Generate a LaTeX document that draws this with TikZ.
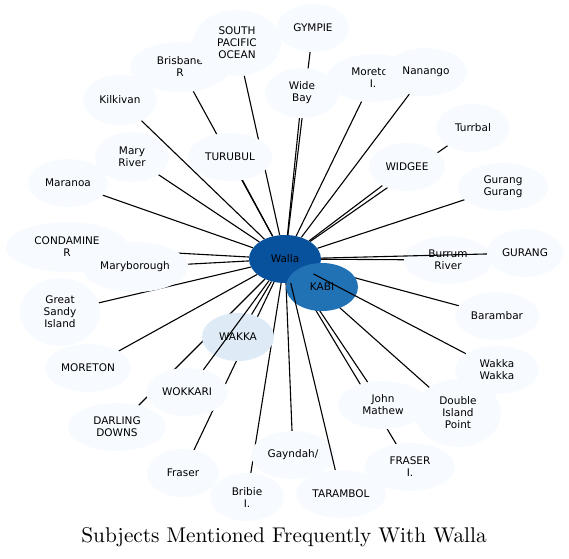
\documentclass[tikz,border=0pt]{standalone}
\usepackage{fontspec}
\usepackage{graphicx}
\newfontfamily\dvs{DejaVu Sans}
\usetikzlibrary{shapes.geometric}
\pgfdeclarelayer{background}
\pgfsetlayers{background,main}
\definecolor{cA}{HTML}{F7FBFF}
\definecolor{cB}{HTML}{DEEBF7}
\definecolor{cC}{HTML}{2171B5}
\definecolor{cD}{HTML}{08519C}
\begin{document}
\begin{tikzpicture}[x=1pt,y=-1pt,
  nd/.style={ellipse, fill=cA, draw=none, inner sep=0pt, align=center,
    font=\dvs\fontsize{10.5}{12}\selectfont},
  ed/.style={line width=1.1pt, black}]
\useasboundingbox (0,0) rectangle (569,558);
% nodes
\node[nd, fill=cD, minimum width=72, minimum height=48] (walla) at (285,259) {Walla};
\node[nd, fill=cC, minimum width=72, minimum height=48] (kabi) at (322,287) {KABI};
\node[nd, fill=cB, minimum width=72, minimum height=48] (wakka) at (238,337) {WAKKA};
\node[nd, minimum width=100, minimum height=50] (brisbane) at (180,67) {Brisbane\\R};
\node[nd, minimum width=72, minimum height=48] (gympie) at (313,28) {GYMPIE};
\node[nd, minimum width=88, minimum height=66] (spo) at (237,43) {SOUTH\\PACIFIC\\OCEAN};
\node[nd, minimum width=74, minimum height=50] (kilkivan) at (120,100) {Kilkivan};
\node[nd, minimum width=92, minimum height=48] (moretoni) at (373,78) {Moreton\\I.};
\node[nd, minimum width=74, minimum height=50] (widebay) at (302,93) {Wide\\Bay};
\node[nd, minimum width=82, minimum height=48] (nanango) at (426,72) {Nanango};
\node[nd, minimum width=84, minimum height=48] (turubul) at (230,157) {TURUBUL};
\node[nd, minimum width=74, minimum height=50] (maryriver) at (132,157) {Mary\\River};
\node[nd, minimum width=74, minimum height=48] (turrbal) at (473,128) {Turrbal};
\node[nd, minimum width=76, minimum height=48] (widgee) at (407,167) {WIDGEE};
\node[nd, minimum width=80, minimum height=48] (maranoa) at (68,183) {Maranoa};
\node[nd, minimum width=90, minimum height=48] (gurangg) at (503,187) {Gurang\\Gurang};
\node[nd, minimum width=122, minimum height=50] (condamine) at (67,247) {CONDAMINE\\R};
\node[nd, minimum width=106, minimum height=50] (maryborough) at (135,267) {Maryborough};
\node[nd, minimum width=88, minimum height=48] (burrum) at (448,260) {Burrum\\River};
\node[nd, minimum width=76, minimum height=48] (gurang) at (525,253) {GURANG};
\node[nd, minimum width=80, minimum height=68] (greatsandy) at (60,312) {Great\\Sandy\\Island};
\node[nd, minimum width=84, minimum height=48] (barambar) at (497,316) {Barambar};
\node[nd, minimum width=86, minimum height=48] (moreton) at (88,368) {MORETON};
\node[nd, minimum width=82, minimum height=48] (wokkari) at (187,392) {WOKKARI};
\node[nd, minimum width=84, minimum height=48] (wakkawakka) at (497,370) {Wakka\\Wakka};
\node[nd, minimum width=90, minimum height=48] (johnm) at (383,405) {John\\Mathew};
\node[nd, minimum width=86, minimum height=68] (dip) at (458,413) {Double\\Island\\Point};
\node[nd, minimum width=98, minimum height=48] (darling) at (117,427) {DARLING\\DOWNS};
\node[nd, minimum width=84, minimum height=48] (gayndah) at (293,455) {Gayndah/};
\node[nd, minimum width=90, minimum height=48] (fraseri) at (410,467) {FRASER\\I.};
\node[nd, minimum width=72, minimum height=48] (fraser) at (183,473) {Fraser};
\node[nd, minimum width=74, minimum height=48] (bribie) at (247,497) {Bribie\\I.};
\node[nd, minimum width=90, minimum height=48] (tarambol) at (341,494) {TARAMBOL};
% caption
\node[inner sep=0pt] (cap) at (284,537) {\scalebox{2.13}{\fontsize{10}{12}\selectfont Subjects Mentioned Frequently With Walla}};
% edges behind nodes
\begin{pgfonlayer}{background}
\foreach \t in {kabi,wakka,brisbane,gympie,spo,kilkivan,moretoni,widebay,nanango,
  turubul,maryriver,turrbal,widgee,maranoa,gurangg,condamine,maryborough,burrum,
  greatsandy,barambar,moreton,johnm,dip,darling,gayndah,fraseri,fraser,bribie}
  \draw[ed] (walla) -- (\t);
\end{pgfonlayer}
% edges over nodes
\draw[ed] (walla) -- (gurang);
\draw[ed] (walla) -- (wokkari);
\draw[ed] (walla) -- (wakkawakka);
\draw[ed] (walla) -- (tarambol);
\end{tikzpicture}
\end{document}
